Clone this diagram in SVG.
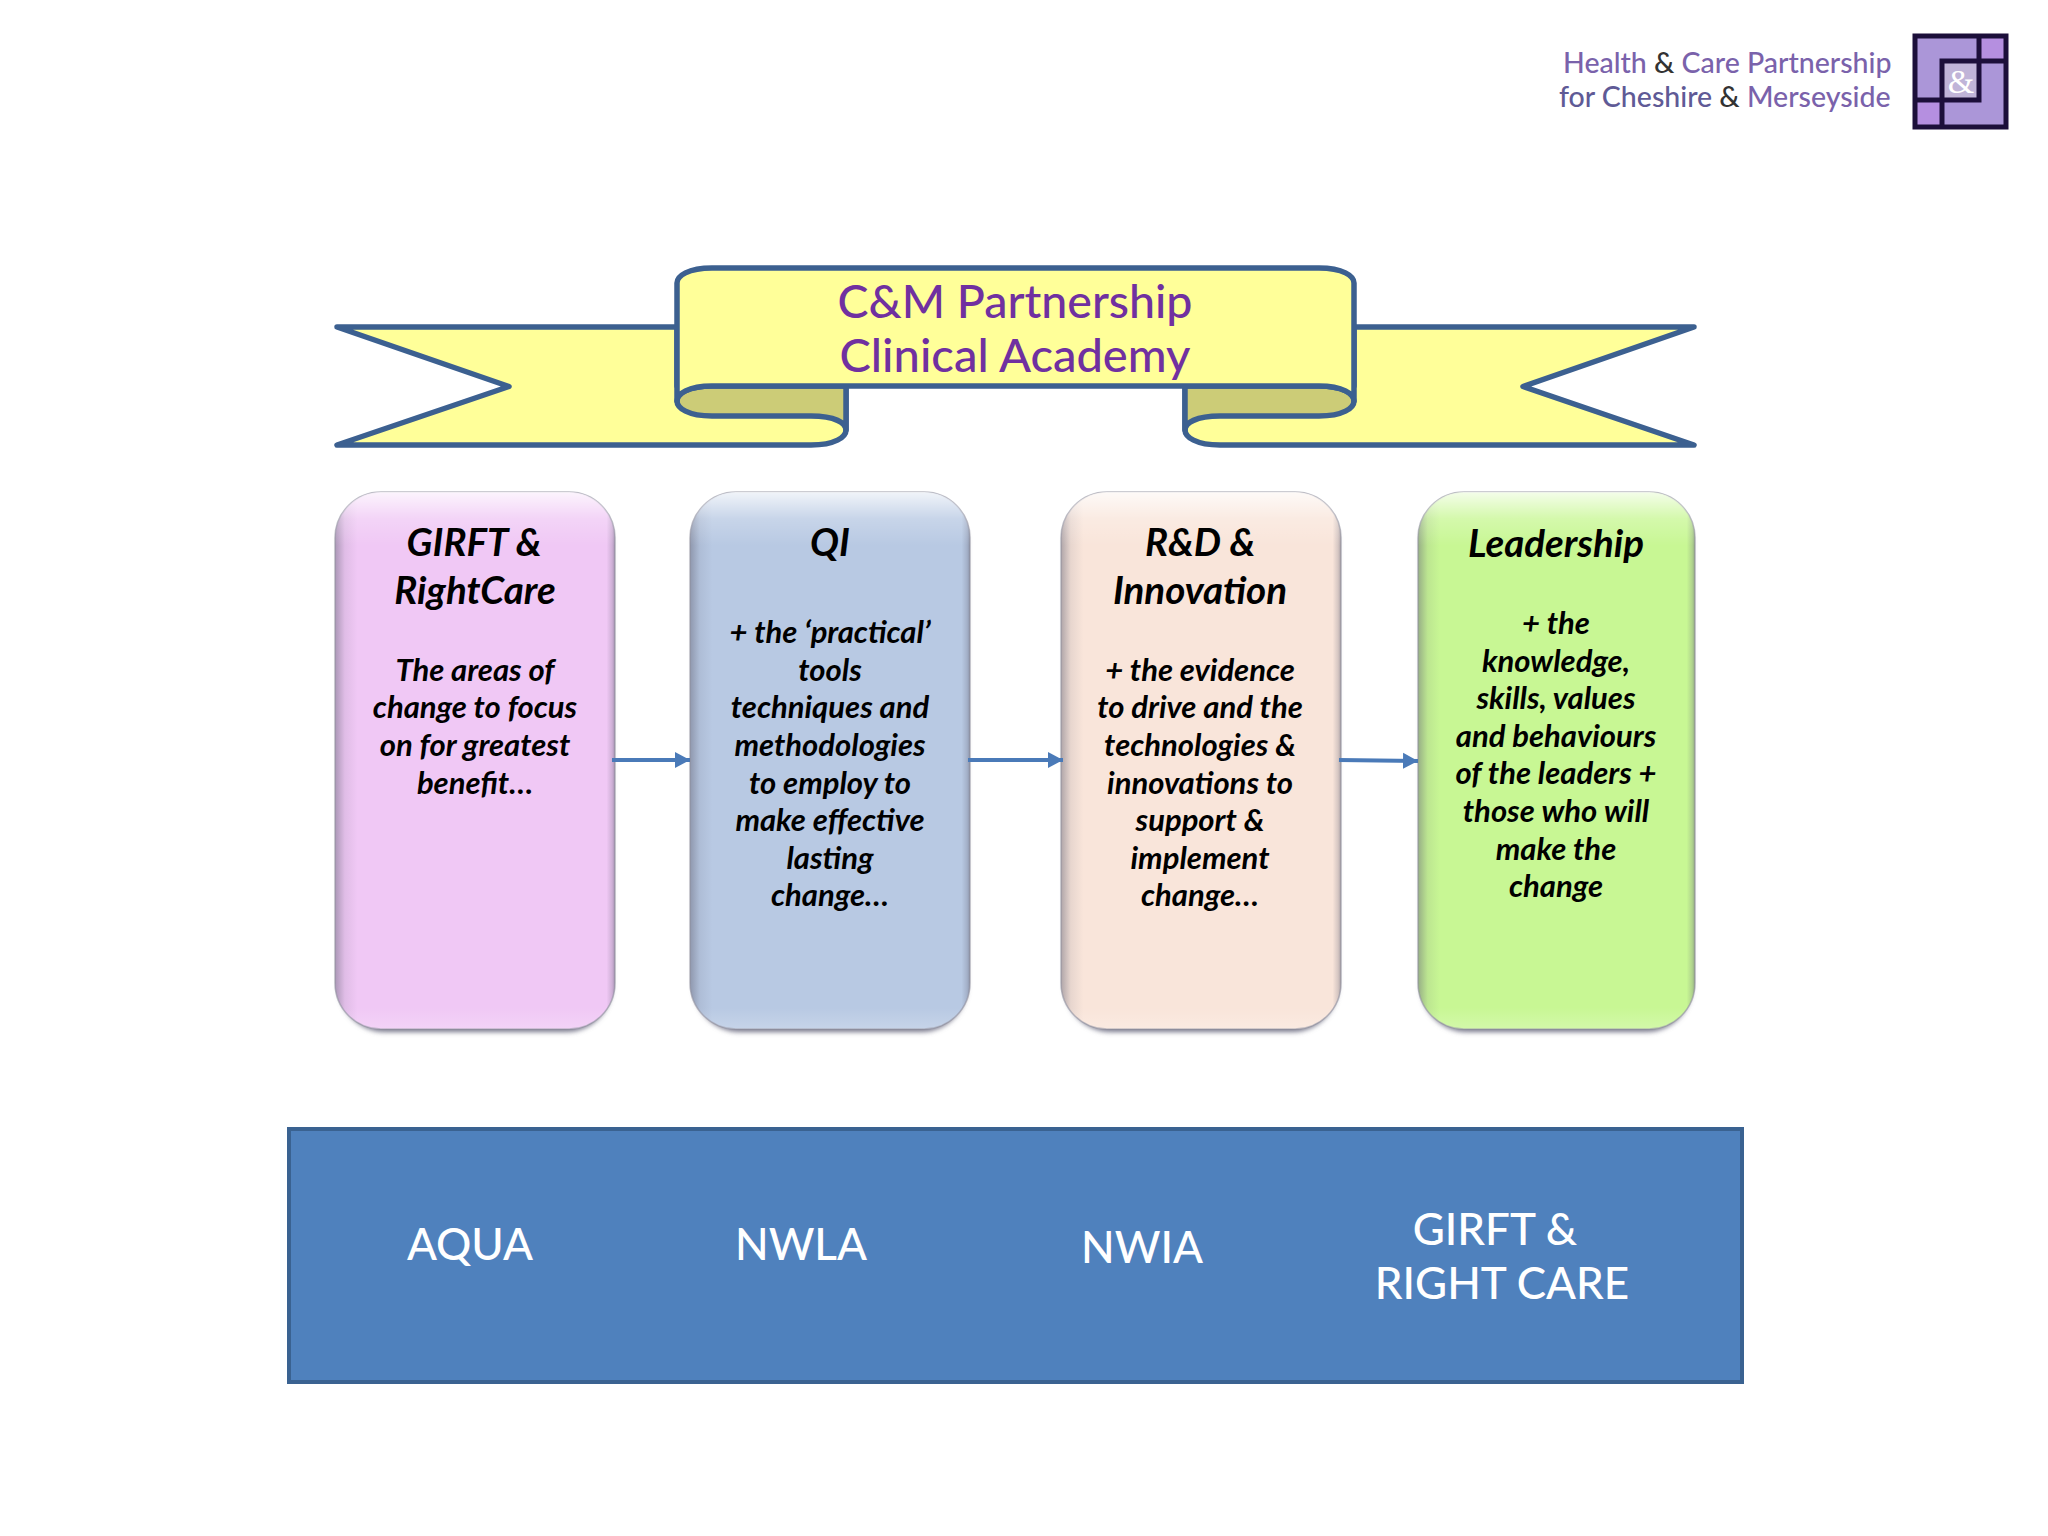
<svg xmlns="http://www.w3.org/2000/svg" width="2048" height="1536" viewBox="0 0 2048 1536">
<style>
text{font-family:"Lato","Liberation Sans",sans-serif;text-anchor:middle}
.h{font-size:38.500px;font-weight:700;font-style:italic;fill:#000}
.b{font-size:31px;font-weight:700;font-style:italic;fill:#000}
.w{font-size:44px;fill:#fff;font-weight:500}
.t{font-size:46.500px;fill:#7030a0;font-weight:500}
.l{font-size:28.500px;text-anchor:start;fill:#7a62ab;font-weight:500}
.rb{stroke:#3c6090;stroke-width:5.500;stroke-linejoin:round;stroke-linecap:round}
.shade{fill:#77778a}
.sd{fill:url(#sides);stroke:#8d8d9c;stroke-width:1.500;stroke-opacity:.6}
.tp{fill:url(#topb)}
.line{stroke:#4a7ab8;stroke-width:4;fill:none;marker-end:url(#a)}
.lg{stroke:#1c0f3a;stroke-width:5;fill:none}
</style>
<defs>
<marker id="a" markerUnits="userSpaceOnUse" markerWidth="16" markerHeight="18" refX="15" refY="9" orient="auto"><path d="M0 1L15 9L0 17Z" fill="#4a7ab8"/></marker>
<filter id="sh" x="-10%" y="-10%" width="120%" height="120%"><feGaussianBlur stdDeviation="2.500"/></filter>
<linearGradient id="sides" x1="0" y1="0" x2="1" y2="0">
<stop offset="0" stop-color="#666678" stop-opacity=".5"/>
<stop offset=".035" stop-color="#666678" stop-opacity=".12"/>
<stop offset=".08" stop-color="#666678" stop-opacity="0"/>
<stop offset=".97" stop-color="#666678" stop-opacity="0"/>
<stop offset=".99" stop-color="#666678" stop-opacity=".25"/>
<stop offset="1" stop-color="#666678" stop-opacity=".55"/>
</linearGradient>
<linearGradient id="topb" x1="0" y1="0" x2="0" y2="1">
<stop offset="0" stop-color="#fff" stop-opacity=".8"/>
<stop offset=".05" stop-color="#fff" stop-opacity=".22"/>
<stop offset=".1" stop-color="#fff" stop-opacity="0"/>
<stop offset=".96" stop-color="#fff" stop-opacity="0"/>
<stop offset="1" stop-color="#fff" stop-opacity=".2"/>
</linearGradient>
</defs>
<rect width="2048" height="1536" fill="#fff"/>

<g id="logo">
<text class="l" x="1563" y="73">Health <tspan fill="#333">&amp;</tspan> Care Partnership</text>
<text class="l" x="1559" y="107" style="fill:#5f5a96">for Cheshire <tspan fill="#333">&amp;</tspan> <tspan fill="#7a62ab">Merseyside</tspan></text>
<rect x="1915" y="36" width="91" height="91" fill="#ab96d8"/>
<rect x="1979" y="36" width="27" height="25" fill="#b58fe0"/>
<rect x="1915" y="100" width="27" height="27" fill="#b58fe0"/>
<rect x="1942" y="61" width="37" height="39" fill="#c0b4d8"/>
<rect class="lg" x="1915" y="36" width="91" height="91"/>
<path class="lg" d="M1979 36V100H1915M2006 61H1942V127"/>
<text x="1961" y="93" font-size="34" fill="#fff" style="font-family:'Liberation Serif',serif">&amp;</text>
</g>

<g id="banner">
<path class="rb" fill="#ffff99" d="M677 327H337L509 386.500L337 445H811C835 445 846 437 846 430V386H677Z"/>
<path class="rb" fill="#ffff99" d="M1354 327H1694L1523 386.500L1694 445H1220C1196 445 1185 437 1185 430V386H1354Z"/>
<path class="rb" fill="#cccc77" d="M846 386V430C846 423 835 416 811 416H712C688 416 677 408 677 401C677 394 688 386 712 386Z"/>
<path class="rb" fill="#cccc77" d="M1185 386V430C1185 423 1196 416 1220 416H1319C1343 416 1354 408 1354 401C1354 394 1343 386 1319 386Z"/>
<path class="rb" fill="#ffff99" d="M712 268H1319C1343 268 1354 276 1354 283V401C1354 394 1343 386 1319 386H712C688 386 677 394 677 401V283C677 276 688 268 712 268Z"/>
<text class="t" x="1015" y="318">C&amp;M Partnership</text>
<text class="t" x="1015" y="372" textLength="351" lengthAdjust="spacingAndGlyphs">Clinical Academy</text>
</g>

<g id="node-girft">
<rect class="shade" x="339" y="498" width="273" height="534" rx="46" filter="url(#sh)"/>
<rect x="335" y="492" width="280" height="537" rx="46" fill="#f0c8f5"/>
<rect class="sd" x="335" y="492" width="280" height="537" rx="46"/>
<rect class="tp" x="335" y="492" width="280" height="537" rx="46"/>
<text class="h" x="474" y="556">GIRFT &amp;</text>
<text class="h" x="475" y="604">RightCare</text>
<text class="b" x="475" y="681">The areas of</text>
<text class="b" x="475" y="718">change to focus</text>
<text class="b" x="475" y="756">on for greatest</text>
<text class="b" x="475" y="794">benefit…</text>
</g>

<g id="node-qi">
<rect class="shade" x="694" y="498" width="273" height="534" rx="46" filter="url(#sh)"/>
<rect x="690" y="492" width="280" height="537" rx="46" fill="#b8c9e3"/>
<rect class="sd" x="690" y="492" width="280" height="537" rx="46"/>
<rect class="tp" x="690" y="492" width="280" height="537" rx="46"/>
<text class="h" x="830" y="556">QI</text>
<text class="b" x="830" y="643">+ the ‘practical’</text>
<text class="b" x="830" y="681">tools</text>
<text class="b" x="830" y="718">techniques and</text>
<text class="b" x="830" y="756">methodologies</text>
<text class="b" x="830" y="794">to employ to</text>
<text class="b" x="830" y="831">make effective</text>
<text class="b" x="830" y="869">lasting</text>
<text class="b" x="830" y="906">change…</text>
</g>

<g id="node-rd">
<rect class="shade" x="1065" y="498" width="273" height="534" rx="46" filter="url(#sh)"/>
<rect x="1061" y="492" width="280" height="537" rx="46" fill="#f9e5da"/>
<rect class="sd" x="1061" y="492" width="280" height="537" rx="46"/>
<rect class="tp" x="1061" y="492" width="280" height="537" rx="46"/>
<text class="h" x="1200" y="556">R&amp;D &amp;</text>
<text class="h" x="1200" y="604">Innovation</text>
<text class="b" x="1200" y="681">+ the evidence</text>
<text class="b" x="1200" y="718">to drive and the</text>
<text class="b" x="1200" y="756">technologies &amp;</text>
<text class="b" x="1200" y="794">innovations to</text>
<text class="b" x="1200" y="831">support &amp;</text>
<text class="b" x="1200" y="869">implement</text>
<text class="b" x="1200" y="906">change…</text>
</g>

<g id="node-leadership">
<rect class="shade" x="1421" y="498" width="271" height="534" rx="46" filter="url(#sh)"/>
<rect x="1418" y="492" width="277" height="537" rx="46" fill="#c8f794"/>
<rect class="sd" x="1418" y="492" width="277" height="537" rx="46"/>
<rect class="tp" x="1418" y="492" width="277" height="537" rx="46"/>
<text class="h" x="1556" y="557">Leadership</text>
<text class="b" x="1556" y="634">+ the</text>
<text class="b" x="1556" y="672">knowledge,</text>
<text class="b" x="1556" y="709">skills, values</text>
<text class="b" x="1556" y="747">and behaviours</text>
<text class="b" x="1556" y="784">of the leaders +</text>
<text class="b" x="1556" y="822">those who will</text>
<text class="b" x="1556" y="860">make the</text>
<text class="b" x="1556" y="897">change</text>
</g>

<g id="connectors">
<path class="line" d="M612 760H690"/>
<path class="line" d="M968 760H1063"/>
<path class="line" d="M1339 760L1418 761"/>
</g>

<g id="node-organisations">
<rect x="289" y="1129" width="1453" height="253" fill="#4f81bd" stroke="#3a6291" stroke-width="4"/>
<text class="w" x="470" y="1260">AQUA</text>
<text class="w" x="801" y="1260">NWLA</text>
<text class="w" x="1142" y="1263">NWIA</text>
<text class="w" x="1495" y="1245">GIRFT &amp;</text>
<text class="w" x="1502" y="1299">RIGHT CARE</text>
</g>
</svg>
